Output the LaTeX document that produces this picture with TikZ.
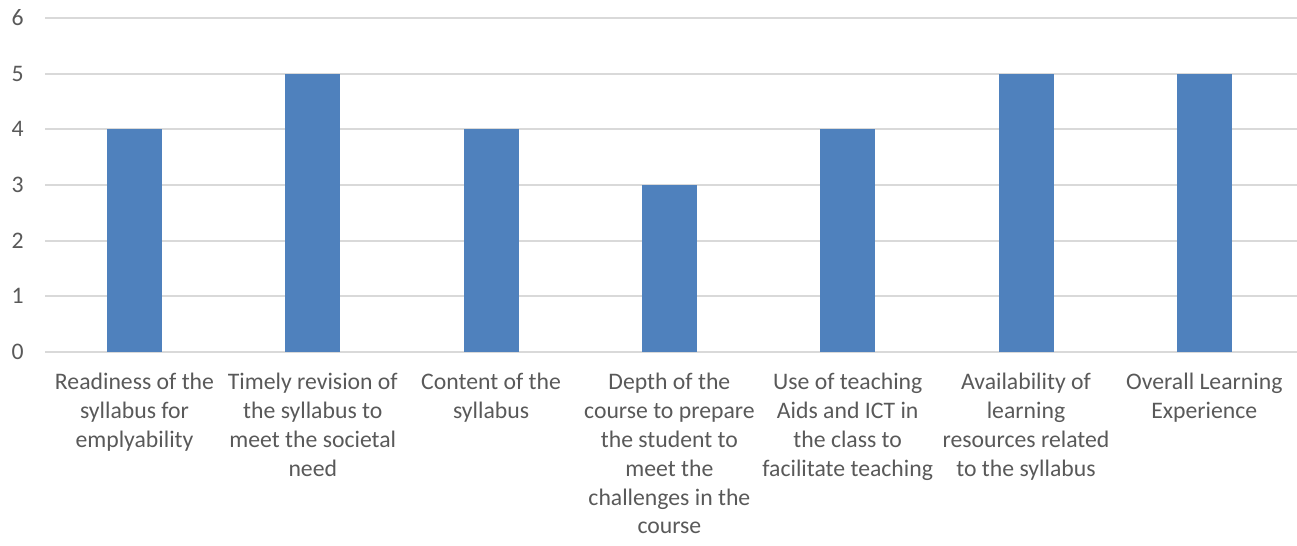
\documentclass[tikz,border=0pt]{standalone}
\usepackage{fontspec}
\setmainfont{Carlito}
\definecolor{barblue}{HTML}{4F81BD}
\definecolor{gridgray}{HTML}{D9D9D9}
\definecolor{txtgray}{HTML}{595959}
\begin{document}
\begin{tikzpicture}[x=0.02cm,y=0.02cm,
    bar/.style={fill=barblue,draw=none},
    gridline/.style={draw=gridgray,line width=1.1pt},
    ticklabel/.style={text=txtgray,font=\fontsize{13.5}{16.4}\selectfont,anchor=east,inner sep=0pt},
    catlabel/.style={text=txtgray,font=\fontsize{13.5}{16.4}\selectfont,align=center,anchor=north,inner sep=0pt}]
    \useasboundingbox (0,0) rectangle (1297,546);
    % grid and y values
    \foreach \v in {0,...,6} {
        \coordinate (g\v) at (45,194+55.67*\v);
        \draw[gridline] (g\v) -- ++(1252,0);
        \node[ticklabel] (y\v) at (24,194+55.67*\v) {\v};
    }
    % bars
    \foreach \i/\v in {0/4,1/5,2/4,3/3,4/4,5/5,6/5}
        \fill[bar] (107+178.3*\i,194) rectangle ++(55,55.67*\v);
    % category labels
    \node[catlabel] (c1) at (134.5,173) {Readiness of the\\syllabus for\\emplyability};
    \node[catlabel] (c2) at (312.8,173) {Timely revision of\\the syllabus to\\meet the societal\\need};
    \node[catlabel] (c3) at (491.1,173) {Content of the\\syllabus};
    \node[catlabel] (c4) at (669.4,173) {Depth of the\\course to prepare\\the student to\\meet the\\challenges in the\\course};
    \node[catlabel] (c5) at (847.7,173) {Use of teaching\\Aids and ICT in\\the class to\\facilitate teaching};
    \node[catlabel] (c6) at (1026,173) {Availability of\\learning\\resources related\\to the syllabus};
    \node[catlabel] (c7) at (1204.3,173) {Overall Learning\\Experience};
\end{tikzpicture}
\end{document}
